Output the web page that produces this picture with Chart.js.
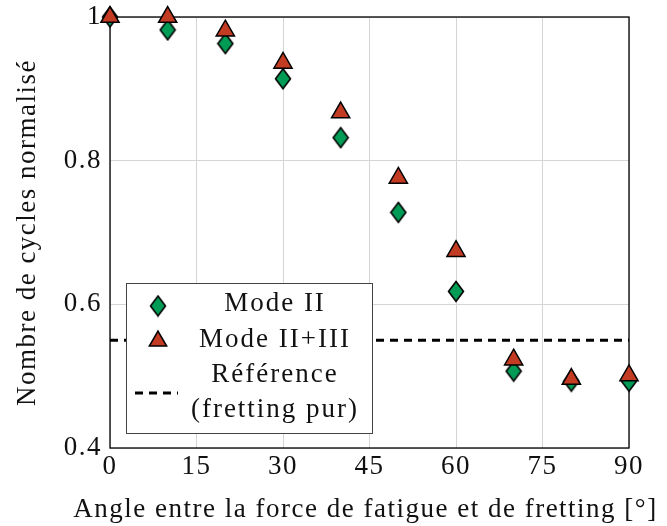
<!DOCTYPE html>
<html>
<head>
<meta charset="utf-8">
<script src="https://cdn.jsdelivr.net/npm/chart.js@4/dist/chart.umd.min.js"></script>
<style>
  html, body { margin: 0; padding: 0; background: #fff; }
  #wrap { width: 667px; height: 526px; }
</style>
</head>
<body>
<div id="wrap"><canvas id="chart" width="667" height="526"></canvas></div>
<script>
// angles (deg)
const angles = [0, 10, 20, 30, 40, 50, 60, 70, 80, 90];
// normalised cycle counts
const modeII = [1.0, 0.982, 0.963, 0.914, 0.832, 0.728, 0.618, 0.507, 0.493, 0.493];
const modeII_III = [1.0, 1.0, 0.981, 0.936, 0.867, 0.776, 0.674, 0.523, 0.496, 0.501];
const refLevel = 0.55;
const refRange = [0, 90];

const xTicks = [0, 15, 30, 45, 60, 75, 90];
const yTicks = [0.4, 0.6, 0.8, 1];

const xTitle = 'Angle entre la force de fatigue et de fretting [°]';
const yTitle = 'Nombre de cycles normalisé';

const FONT = "'Liberation Serif', serif";
const GREEN = '#009b55';
const RED = '#c23b22';

const toPoints = (xs, ys) => xs.map((x, i) => ({ x: x, y: ys[i] }));

// pgfplots-like diamond: a bit taller than wide
function makeDiamond(w, h, fill) {
    const c = document.createElement('canvas');
    c.width = w + 3;
    c.height = h + 3;
    const g = c.getContext('2d');
    const cx = c.width / 2, cy = c.height / 2;
    g.beginPath();
    g.moveTo(cx, cy - h / 2);
    g.lineTo(cx + w / 2, cy);
    g.lineTo(cx, cy + h / 2);
    g.lineTo(cx - w / 2, cy);
    g.closePath();
    g.fillStyle = fill;
    g.fill();
    g.lineWidth = 1.6;
    g.strokeStyle = '#000';
    g.stroke();
    return c;
}
const diamond = makeDiamond(15, 20, GREEN);

// frame around the plot area, like pgfplots' box
const framePlugin = {
    id: 'frame',
    beforeDraw(chart) {
        chart.ctx.letterSpacing = '1.5px';
    },
    beforeDatasetsDraw(chart) {
        const a = chart.chartArea;
        const ctx = chart.ctx;
        ctx.save();
        ctx.strokeStyle = '#000';
        ctx.lineWidth = 1.3;
        ctx.strokeRect(a.left, a.top, a.right - a.left, a.bottom - a.top);
        ctx.restore();
    },
    afterDraw(chart) {
        // x title is wider than the plot, so Chart.js would squeeze it
        const ctx = chart.ctx;
        const a = chart.chartArea;
        ctx.save();
        ctx.fillStyle = '#111';
        ctx.font = '27px ' + FONT;
        ctx.letterSpacing = '1.5px';
        ctx.textAlign = 'center';
        ctx.textBaseline = 'middle';
        ctx.fillText(xTitle, (a.left + a.right) / 2 - 4, 510);
        ctx.restore();
        ctx.letterSpacing = '0px';
    }
};

// legend sitting inside the plot, bottom-left
const boxLegend = {
    id: 'boxLegend',
    afterDatasetsDraw(chart) {
        const ctx = chart.ctx;
        const box = { x: 126, y: 283, w: 246, h: 150 };
        ctx.save();
        ctx.fillStyle = '#fff';
        ctx.fillRect(box.x, box.y, box.w, box.h);
        ctx.strokeStyle = '#444';
        ctx.lineWidth = 1;
        ctx.strokeRect(box.x + 0.5, box.y + 0.5, box.w, box.h);

        const mx = 158;
        const tx = 275;
        const ds = chart.data.datasets;

        Chart.helpers.drawPoint(ctx, { pointStyle: diamond, radius: 9 }, mx, 306);
        ctx.fillStyle = ds[1].backgroundColor;
        ctx.strokeStyle = '#000';
        ctx.lineWidth = 1.5;
        Chart.helpers.drawPoint(ctx, { pointStyle: 'triangle', radius: 10, borderWidth: 1.5 }, mx, 341);

        ctx.strokeStyle = '#000';
        ctx.lineWidth = 3;
        ctx.setLineDash([8, 6]);
        ctx.beginPath();
        ctx.moveTo(135, 393);
        ctx.lineTo(178, 393);
        ctx.stroke();
        ctx.setLineDash([]);

        ctx.fillStyle = '#111';
        ctx.font = '27px ' + FONT;
        ctx.letterSpacing = '2px';
        ctx.textAlign = 'center';
        ctx.textBaseline = 'middle';
        ctx.fillText('Mode II', tx, 304);
        ctx.fillText('Mode II+III', tx, 340);
        ctx.fillText('Référence', tx, 375);
        ctx.fillText('(fretting pur)', tx, 410);
        ctx.restore();
    }
};

const chart = new Chart(document.getElementById('chart'), {
    type: 'scatter',
    data: {
        datasets: [
            {
                label: 'Mode II',
                data: toPoints(angles, modeII),
                pointStyle: diamond,
                pointRadius: 9,
                backgroundColor: GREEN,
                borderColor: '#000',
                borderWidth: 1.5,
                order: 1
            },
            {
                label: 'Mode II+III',
                data: toPoints(angles, modeII_III),
                pointStyle: 'triangle',
                pointRadius: 10.5,
                backgroundColor: RED,
                borderColor: '#000',
                borderWidth: 1.5,
                order: 0
            },
            {
                label: 'Référence (fretting pur)',
                type: 'line',
                data: toPoints(refRange, [refLevel, refLevel]),
                borderColor: '#000',
                borderWidth: 3,
                borderDash: [8, 6],
                pointRadius: 0,
                order: 2
            }
        ]
    },
    options: {
        responsive: false,
        animation: false,
        clip: false,
        layout: { padding: { top: 17, right: 38, left: 0, bottom: 0 } },
        plugins: {
            legend: { display: false },
            tooltip: { enabled: false }
        },
        scales: {
            x: {
                type: 'linear',
                min: 0,
                max: 90,
                afterBuildTicks: s => { s.ticks = xTicks.map(v => ({ value: v })); },
                afterFit: s => {
                    s.height = 78;
                    s.paddingLeft = 0;
                    s.paddingRight = 0;
                },
                grid: { color: '#d4d4d4', lineWidth: 1, drawTicks: false },
                border: { display: false },
                ticks: { color: '#111', font: { family: FONT, size: 27 }, padding: 3 }
            },
            y: {
                min: 0.4,
                max: 1,
                afterBuildTicks: s => { s.ticks = yTicks.map(v => ({ value: v })); },
                afterFit: s => {
                    s.width = 110;
                    s.paddingTop = 0;
                    s.paddingBottom = 0;
                },
                grid: { color: '#d4d4d4', lineWidth: 1, drawTicks: false },
                border: { display: false },
                ticks: {
                    color: '#111',
                    font: { family: FONT, size: 27 },
                    padding: 8,
                    callback: v => String(Number(v.toFixed(1)))
                },
                title: {
                    display: true,
                    text: yTitle,
                    color: '#111',
                    font: { family: FONT, size: 27 },
                    padding: { top: 12, bottom: 0 }
                }
            }
        }
    },
    plugins: [framePlugin, boxLegend]
});
</script>
</body>
</html>
